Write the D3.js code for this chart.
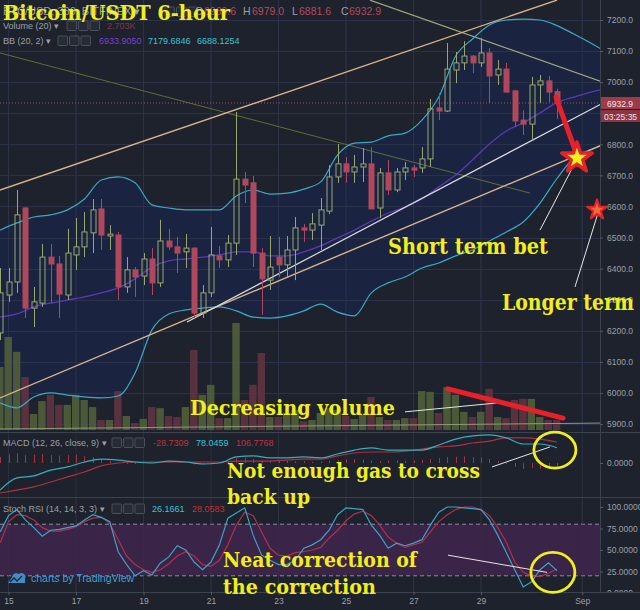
<!DOCTYPE html>
<html><head><meta charset="utf-8">
<script src="https://cdn.jsdelivr.net/npm/d3@7"></script>
<style>body{margin:0;background:#1d222c;}svg{display:block}</style>
</head><body><svg id="c" width="640" height="610"></svg>
<script>
// ---------- DATA ----------
const candleStart = "2018-08-14T18:00:00Z"; // 6-hour candles
const opens  = [6193,6315,6357,6595,6273,6289,6437,6415,6315,6444,6470,6515,6592,6505,6508,6341,6396,6376,6431,6354,6489,6470,6454,6466,6257,6322,6441,6428,6482,6688,6676,6450,6363,6437,6412,6460,6531,6524,6540,6585,6695,6737,6711,6727,6737,6595,6708,6653,6711,6724,6724,6753,6917,6907,7039,7062,7084,7062,7094,7023,7042,6972,6878,6865,6991,7004,6969.6];
const highs  = [6402,6402,6653,6598,6341,6479,6479,6441,6528,6563,6582,6624,6624,6540,6518,6437,6405,6450,6466,6557,6528,6502,6511,6468,6347,6534,6473,6508,6904,6711,6698,6466,6505,6502,6505,6566,6544,6579,6627,6733,6801,6759,6766,6788,6791,6724,6750,6724,6743,6733,6791,6946,6965,7126,7097,7132,7087,7142,7110,7071,7062,6972,6910,7017,7023,7020,6979.0];
const lows   = [6170,6293,6322,6241,6212,6277,6289,6241,6299,6396,6437,6450,6460,6460,6299,6322,6309,6347,6315,6341,6460,6386,6402,6241,6241,6309,6402,6405,6444,6611,6405,6251,6331,6373,6373,6363,6486,6492,6460,6575,6676,6676,6676,6679,6592,6563,6637,6646,6685,6695,6708,6727,6878,6904,6997,7039,7029,7049,6933,6991,6968,6856,6830,6814,6933,6936,6881.6];
const closes = [6322,6357,6573,6273,6293,6437,6415,6318,6450,6470,6518,6589,6508,6511,6341,6396,6373,6431,6354,6489,6470,6450,6466,6257,6322,6444,6428,6482,6688,6669,6450,6367,6405,6412,6460,6531,6524,6544,6589,6695,6737,6711,6727,6737,6592,6708,6653,6711,6724,6717,6753,6914,6907,7042,7062,7084,7062,7094,7020,7042,6968,6875,6865,6991,7004,6968,6932.9];
const volumesK = [17.0,25.1,21.1,14.3,4.3,7.8,9.5,6.8,6.8,9.5,8.1,6.2,2.7,2.7,10.5,3.8,1.9,3.0,6.2,5.9,3.8,3.5,6.2,21.6,9.5,12.2,3.2,3.2,28.9,8.1,12.2,20.8,3.5,3.5,4.6,5.4,2.4,2.7,4.6,5.9,5.4,3.8,3.0,4.1,8.9,3.5,2.7,2.7,3.2,3.2,10.5,10.3,4.6,11.6,9.5,4.9,3.5,4.9,11.1,3.5,3.2,8.1,8.4,8.4,3.5,2.7,2.703];
// Bollinger bands, sampled every 12 hours from candleStart
const bbUpper = [6524,6547,6566,6573,6589,6624,6685,6695,6676,6605,6595,6589,6589,6589,6634,6653,6640,6643,6656,6679,6766,6804,6807,6827,6836,6878,6952,7084,7139,7184,7200,7203,7200,7182,7155,7126,7094];
const bbMid   = [6244,6254,6277,6289,6299,6309,6322,6338,6367,6405,6425,6431,6437,6444,6454,6454,6441,6441,6454,6473,6499,6524,6553,6579,6598,6624,6663,6701,6750,6801,6843,6869,6901,6934,6952,6968,6981];
const bbLower = [5968,5952,5987,6000,5993,5987,5984,5990,6064,6203,6254,6267,6273,6277,6264,6244,6241,6248,6264,6286,6260,6248,6322,6354,6373,6402,6418,6441,6460,6489,6518,6550,6611,6690,6756,6782,6804];
// MACD (12,26,9), sampled every 12 hours
const macdLine   = [-138,-76,-66,-36,-20,5,20,15,5,0,10,5,-5,0,31,36,26,26,31,26,46,66,77,66,66,66,92,122,138,143,128,97,97,78];
const macdSignal = [-153,-138,-122,-97,-71,-46,-15,0,5,5,5,5,5,5,10,10,10,15,20,20,36,51,56,56,61,71,82,87,102,112,128,128,122,107];
const macdHist   = [30,45,50,40,42,45,40,38,40,42,35,30,20,10,0,-5,-5,0,0,5,5,0,0,-8,-8,-5,5,10,25,28,20,15,12,10,10,8,10,6,8,12,15,18,20,18,12,10,12,14,12,12,15,20,25,30,32,34,30,28,20,10,-5,-20,-30,-25,-30,-32,-28.73];
// Stoch RSI (14,14,3,3), per candle
const stochK = [71,90,97,85,76,66,73,74,76,78,85,91,88,83,48,33,20,26,21,35,42,55,50,36,27,36,56,87,93,99,67,44,38,33,33,38,52,56,62,73,91,99,98,97,79,67,52,58,55,58,62,79,94,100,100,99,98,97,85,67,47,27,7,13,27,35,26];
const stochD = [58,83,91,90,85,76,72,72,74,77,83,87,88,81,62,43,33,27,24,27,34,43,48,43,33,31,38,56,79,94,90,71,52,44,43,47,48,50,53,64,73,84,92,95,90,79,65,58,53,56,59,71,83,91,97,100,100,97,90,76,59,36,24,20,19,23,28];
// axis ticks
const priceTicks = [7200,7100,7000,6900,6800,6700,6600,6500,6400,6300,6200,6100,6000,5900];
const rsiTicks = [100,75,50,25,0];
const timeTicks = ["2018-08-15","2018-08-17","2018-08-19","2018-08-21","2018-08-23","2018-08-25","2018-08-27","2018-08-29","2018-09-01"];
const timeTickLabels = ["15","17","19","21","23","25","27","29","Sep"];
// drawn trend lines: [dayOfAugust, price]
const channelUpper = [[14.748,6653],[31.252,7264]];
const channelLower = [[14.748,5984],[32.585,6798]];
const supportLine  = [[20.289,6228],[32.615,6933]];
const olivLine     = [[14.748,7094],[30.452,6643]];
const khakiLine    = [[25.711,7264],[32.615,7000]];
const baseLine     = [[14.748,5884],[32.526,5903]];
const lastPrice = 6932.9;
// annotations: [dayOfAugust, value]
const shortArrow = [[31.222,6952],[31.785,6782]];
const shortStar = [31.844,6756];
const longStar = [32.437,6589];
const shortPointer = [[30.748,6524],[31.785,6740]];
const longPointer = [[31.785,6341],[32.467,6579]];
const volTrend = [[28.02,11.1],[31.43,3.2]];
const volPointer = [[26.748,4.9],[29.474,7.3]];
const macdPointer = [[29.326,-20],[31.044,82]];
const macdCircle = [31.19,66];
const rsiPointer = [[28.022,44],[30.956,24]];
const rsiCircle = [31.13,24];

// ---------- SCALES ----------
const svg = d3.select("#c");
const W = 600;
const dayDate = d => new Date(Date.UTC(2018,7,1) + (d-1)*864e5);
const T0 = Date.parse(candleStart), H6 = 6*3600e3;
const cTimes = d3.range(opens.length).map(i => new Date(T0 + i*H6));
const hTimes = d3.range(bbUpper.length).map(i => new Date(T0 + i*2*H6));
const x = d3.scaleUtc().domain([dayDate(17), dayDate(29)]).range([76,481]);
const y = d3.scaleLinear().domain([5900,7200]).range([424,20]);
const vy = d3.scaleLinear().domain([0,30]).range([430,430-30/0.27]);
const my = d3.scaleLinear().domain([-150,150]).range([463+150/5.1, 463-150/5.1]);
const ry = d3.scaleLinear().domain([0,100]).range([593,507]);

const bg = "#1d222c", grid = "#2a303b", sep = "#3c424d", axisText = "#9ba0a8";
svg.append("rect").attr("width",640).attr("height",610).attr("fill",bg);

const defs = svg.append("defs");
const clip = (id,y0,h)=>defs.append("clipPath").attr("id",id).append("rect").attr("x",0).attr("y",y0).attr("width",W).attr("height",h);
clip("cp",0,431); clip("cm",433,63); clip("cr",498,94);

// grid
const gGrid = svg.append("g");
gGrid.selectAll(".v").data(timeTicks).join("line")
  .attr("x1",d=>x(new Date(d+"T00:00:00Z"))).attr("x2",d=>x(new Date(d+"T00:00:00Z")))
  .attr("y1",0).attr("y2",592).attr("stroke",grid).attr("stroke-width",1);
gGrid.selectAll(".h").data(priceTicks).join("line")
  .attr("x1",0).attr("x2",W).attr("y1",d=>Math.round(y(d))+0.5).attr("y2",d=>Math.round(y(d))+0.5)
  .attr("stroke",grid);

// ---------- PRICE PANE ----------
const P = svg.append("g").attr("clip-path","url(#cp)");
const bbArea = d3.area().x((d,i)=>x(hTimes[i])).y0((d,i)=>y(bbLower[i])).y1((d,i)=>y(bbUpper[i])).curve(d3.curveMonotoneX);
P.append("path").datum(bbUpper).attr("d",bbArea).attr("fill","#1b2442").attr("opacity",0.9);
// redraw grid faintly over fill
P.selectAll(".hg").data(priceTicks).join("line")
  .attr("x1",0).attr("x2",W).attr("y1",d=>Math.round(y(d))+0.5).attr("y2",d=>Math.round(y(d))+0.5)
  .attr("stroke","#2a3148").attr("stroke-width",1);
P.selectAll(".vg").data(timeTicks).join("line")
  .attr("x1",d=>x(new Date(d+"T00:00:00Z"))).attr("x2",d=>x(new Date(d+"T00:00:00Z")))
  .attr("y1",0).attr("y2",431).attr("stroke","#2a3148");

// volume
const bw = 8;
P.selectAll(".vol").data(volumesK).join("rect")
  .attr("x",(d,i)=>x(cTimes[i])-bw/2).attr("width",bw-0.6)
  .attr("y",d=>vy(d)).attr("height",d=>vy(0)-vy(d))
  .attr("fill",(d,i)=>closes[i]>=opens[i]?"#4f5d39":"#5e3340").attr("opacity",0.95);

// trend lines
const tl = d3.line().x(d=>x(dayDate(d[0]))).y(d=>y(d[1]));
P.append("path").datum(olivLine).attr("d",tl).attr("stroke","#5f6e38").attr("stroke-width",1).attr("fill","none");
P.append("path").datum(khakiLine).attr("d",tl).attr("stroke","#a3a67a").attr("stroke-width",1.2).attr("fill","none");
P.append("path").datum(baseLine).attr("d",tl).attr("stroke","#8f9a76").attr("stroke-width",1).attr("fill","none");

// BB lines
const bbl = arr => d3.line().x((d,i)=>x(hTimes[i])).y(d=>y(d)).curve(d3.curveMonotoneX)(arr);
P.append("path").attr("d",bbl(bbUpper)).attr("stroke","#3aa9c4").attr("stroke-width",1.2).attr("fill","none");
P.append("path").attr("d",bbl(bbLower)).attr("stroke","#3aa9c4").attr("stroke-width",1.2).attr("fill","none");
P.append("path").attr("d",bbl(bbMid)).attr("stroke","#5a38b8").attr("stroke-width",1.3).attr("fill","none");

// current price dotted
P.append("line").attr("x1",0).attr("x2",W).attr("y1",y(lastPrice)).attr("y2",y(lastPrice))
  .attr("stroke","#a8475a").attr("stroke-dasharray","1,2");

// channel lines
P.append("path").datum(channelUpper).attr("d",tl).attr("stroke","#d6b48a").attr("stroke-width",1.4).attr("fill","none");
P.append("path").datum(channelLower).attr("d",tl).attr("stroke","#d6b48a").attr("stroke-width",1.4).attr("fill","none");
P.append("path").datum(supportLine).attr("d",tl).attr("stroke","#dcdcdc").attr("stroke-width",1.2).attr("fill","none");

// candles
const cw = 5, green = "#98a86d", red = "#b0485d";
const cg = P.selectAll(".c").data(opens).join("g");
cg.each(function(o,i){
  const g = d3.select(this), cx = Math.round(x(cTimes[i]))+0.5;
  const up = closes[i]>=o, col = up?green:red;
  const top = y(Math.max(o,closes[i])), bot = y(Math.min(o,closes[i]));
  g.append("line").attr("x1",cx).attr("x2",cx).attr("y1",y(highs[i])).attr("y2",top).attr("stroke",col);
  g.append("line").attr("x1",cx).attr("x2",cx).attr("y1",bot).attr("y2",y(lows[i])).attr("stroke",col);
  g.append("rect").attr("x",cx-cw/2).attr("width",cw).attr("y",top).attr("height",Math.max(1,bot-top))
    .attr("fill",up?"none":red).attr("stroke",col).attr("stroke-width",1);
});

// ---------- MACD PANE ----------
const M = svg.append("g").attr("clip-path","url(#cm)");
M.selectAll(".hb").data(macdHist).join("line")
  .attr("x1",(d,i)=>Math.round(x(cTimes[i]))+0.5).attr("x2",(d,i)=>Math.round(x(cTimes[i]))+0.5)
  .attr("y1",my(0)).attr("y2",d=>my(d)).attr("stroke","#a8323f").attr("stroke-width",1);
const ml = arr => d3.line().x((d,i)=>x(hTimes[i])).y(d=>my(d)).curve(d3.curveMonotoneX)(arr);
M.append("path").attr("d",ml(macdSignal)).attr("stroke","#b0303e").attr("stroke-width",1.2).attr("fill","none");
M.append("path").attr("d",ml(macdLine)).attr("stroke","#35aebf").attr("stroke-width",1.2).attr("fill","none");

// ---------- STOCH RSI PANE ----------
const R = svg.append("g").attr("clip-path","url(#cr)");
R.append("rect").attr("x",0).attr("width",W).attr("y",ry(80)).attr("height",ry(20)-ry(80)).attr("fill","#3a2447");
[80,20].forEach(v=>R.append("line").attr("x1",0).attr("x2",W).attr("y1",ry(v)).attr("y2",ry(v))
  .attr("stroke","#8d8f9c").attr("stroke-dasharray","4,3"));
R.selectAll(".vg").data(timeTicks).join("line")
  .attr("x1",d=>x(new Date(d+"T00:00:00Z"))).attr("x2",d=>x(new Date(d+"T00:00:00Z")))
  .attr("y1",498).attr("y2",592).attr("stroke","#3a2f4a").attr("opacity",0.6);
const rl = arr => d3.line().x((d,i)=>x(cTimes[i])).y(d=>ry(d))(arr);
R.append("path").attr("d",rl(stochD)).attr("stroke","#b0304f").attr("stroke-width",1.2).attr("fill","none");
R.append("path").attr("d",rl(stochK)).attr("stroke","#3ba3c6").attr("stroke-width",1.2).attr("fill","none");

// ---------- SEPARATORS & AXES ----------
[432,497,592].forEach(v=>svg.append("line").attr("x1",0).attr("x2",640).attr("y1",v+0.5).attr("y2",v+0.5).attr("stroke",sep));
svg.append("line").attr("x1",600.5).attr("x2",600.5).attr("y1",0).attr("y2",610).attr("stroke",sep);

const axStyle = g => { g.select(".domain").remove(); g.selectAll("line").attr("stroke","#555b66");
  g.selectAll("text").attr("fill",axisText).attr("font-family","Liberation Sans, Arial").attr("font-size","8.5px"); };
svg.append("g").attr("transform","translate(600,0)")
  .call(d3.axisRight(y).tickValues(priceTicks).tickFormat(d3.format(".1f")).tickSize(3).tickPadding(4)).call(axStyle);
svg.append("g").attr("transform","translate(600,0)")
  .call(d3.axisRight(my).tickValues([0]).tickFormat(d3.format(".4f")).tickSize(3).tickPadding(4)).call(axStyle);
svg.append("g").attr("transform","translate(600,0)")
  .call(d3.axisRight(ry).tickValues(rsiTicks).tickFormat(d3.format(".4f")).tickSize(3).tickPadding(4)).call(axStyle);
// time axis background
svg.append("rect").attr("x",0).attr("y",593).attr("width",640).attr("height",17).attr("fill",bg);
svg.append("line").attr("x1",0).attr("x2",640).attr("y1",592.5).attr("y2",592.5).attr("stroke",sep);
svg.append("g").attr("transform","translate(0,592)")
  .call(d3.axisBottom(x).tickValues(timeTicks.map(d=>new Date(d+"T00:00:00Z")))
    .tickFormat((d,i)=>timeTickLabels[i]).tickSize(3).tickPadding(3)).call(axStyle);

// price label boxes
const pl = svg.append("g");
pl.append("rect").attr("x",601).attr("y",y(lastPrice)-6).attr("width",39).attr("height",12).attr("fill","#9c3b4a");
pl.append("text").attr("x",607).attr("y",y(lastPrice)+3.5).text(d3.format(".1f")(lastPrice))
  .attr("fill","#f2e6e8").attr("font-family","Liberation Sans, Arial").attr("font-size","8.5px");
pl.append("rect").attr("x",601).attr("y",y(lastPrice)+7).attr("width",39).attr("height",12).attr("fill","#8c3442");
pl.append("text").attr("x",604).attr("y",y(lastPrice)+16.5).text("03:25:35")
  .attr("fill","#f2e6e8").attr("font-family","Liberation Sans, Arial").attr("font-size","8.5px");

// ---------- HEADERS ----------
const H = svg.append("g").attr("font-family","Liberation Sans, Arial");
const txt = (g,xx,yy,s,col,size)=>g.append("text").attr("x",xx).attr("y",yy).text(s).attr("fill",col).attr("font-size",size);
const icons = (g,xx,yy)=>{ for(let k=0;k<3;k++){ g.append("rect").attr("x",xx+k*11.5).attr("y",yy-8).attr("width",9.5).attr("height",9.5)
  .attr("fill","#262b35").attr("stroke","#4a4f5a").attr("rx",1); } };
txt(H,3,15,"BTC/USD, 360, BITFINEX ▾","#9ba0a8","11px");
icons(H,165,15);
txt(H,195,15,"O","#9ba0a8","10.5px"); txt(H,204,15,"6969.6","#b24a5c","10.5px");
txt(H,243,15,"H","#9ba0a8","10.5px"); txt(H,252,15,"6979.0","#b24a5c","10.5px");
txt(H,292,15,"L","#9ba0a8","10.5px"); txt(H,299,15,"6881.6","#b24a5c","10.5px");
txt(H,341,15,"C","#9ba0a8","10.5px"); txt(H,349,15,"6932.9","#b24a5c","10.5px");
txt(H,3,29,"Volume (20) ▾","#9ba0a8","9px"); icons(H,67,29); txt(H,107,29,"2.703K","#7e3a46","9px");
txt(H,3,44,"BB (20, 2) ▾","#9ba0a8","9px"); icons(H,58,44);
txt(H,99,44,"6933.9050","#7b3fd0","9px"); txt(H,148,44,"7179.6846","#3cc2d4","9px"); txt(H,197,44,"6688.1254","#3cc2d4","9px");
txt(H,3,446,"MACD (12, 26, close, 9) ▾","#9ba0a8","9px"); icons(H,112,446);
txt(H,153,446,"-28.7309","#c0303c","9px"); txt(H,196,446,"78.0459","#3cc2d4","9px"); txt(H,236,446,"106.7768","#c0303c","9px");
txt(H,3,512,"Stoch RSI (14, 14, 3, 3) ▾","#9ba0a8","9px"); icons(H,112,512);
txt(H,152,512,"26.1661","#3cc2d4","9px"); txt(H,192,512,"28.0583","#c0303c","9px");
// TradingView logo
H.append("path").attr("d","M8,583 L12,577 A4.5,4.5 0 0 1 19,574 A4,4 0 0 1 25,579 L25,583 Z").attr("fill","#3d8fc8");
H.append("path").attr("d","M10,582 L14,578 L17,581 L22,576").attr("stroke","#1d222c").attr("stroke-width",1.3).attr("fill","none");
txt(H,31,582,"charts by TradingView","#4b9cd3","10.5px");

// ---------- ANNOTATIONS ----------
const A = svg.append("g");
const wl = (pts,sy)=>A.append("path").attr("d",d3.line().x(d=>x(dayDate(d[0]))).y(d=>sy(d[1]))(pts))
  .attr("stroke","#e6e6e6").attr("stroke-width",1).attr("fill","none");
wl(shortPointer,y); wl(longPointer,y); wl(volPointer,vy); wl(macdPointer,my); wl(rsiPointer,ry);
A.append("path").attr("d",d3.line().x(d=>x(dayDate(d[0]))).y(d=>y(d[1]))(shortArrow))
  .attr("stroke","#e8202a").attr("stroke-width",5).attr("stroke-linecap","round");
A.append("path").attr("d",d3.line().x(d=>x(dayDate(d[0]))).y(d=>vy(d[1]))(volTrend))
  .attr("stroke","#e8202a").attr("stroke-width",5).attr("stroke-linecap","round");
A.append("path").attr("d",d3.symbol(d3.symbolStar, 16*16/0.8908)())
  .attr("transform",`translate(${x(dayDate(shortStar[0]))},${y(shortStar[1])}) rotate(0)`)
  .attr("fill","#f6f01c").attr("stroke","#e8202a").attr("stroke-width",3.5).attr("stroke-linejoin","round");
A.append("path").attr("d",d3.symbol(d3.symbolStar, 10.5*10.5/0.8908)())
  .attr("transform",`translate(${x(dayDate(longStar[0]))},${y(longStar[1])})`)
  .attr("fill","#f26a3a").attr("stroke","#e8202a").attr("stroke-width",2).attr("stroke-linejoin","round");
A.append("ellipse").attr("cx",x(dayDate(macdCircle[0]))).attr("cy",my(macdCircle[1])).attr("rx",21).attr("ry",18)
  .attr("fill","none").attr("stroke","#f2ee1e").attr("stroke-width",2.8);
A.append("ellipse").attr("cx",x(dayDate(rsiCircle[0]))).attr("cy",ry(rsiCircle[1])).attr("rx",22).attr("ry",20)
  .attr("fill","none").attr("stroke","#f2ee1e").attr("stroke-width",2.8);

const yt = (s,xx,yy,size,len)=>A.append("text").attr("x",xx).attr("y",yy).text(s)
  .attr("fill","#f2ee1e").attr("font-family","DejaVu Serif, serif").attr("font-weight","bold")
  .attr("font-size",size+"px").attr("textLength",len).attr("lengthAdjust","spacingAndGlyphs");
yt("Bitcoin/USDT 6-hour",3,20,20,227);
yt("Short term bet",388,254,22,160);
yt("Longer term",502,310,22,132);
yt("Decreasing volume",190,415,21,205);
yt("Not enough gas to cross",227,478,21,253);
yt("back up",227,504,21,83);
yt("Neat correction of",223,567,21,194);
yt("the correction",223,594,21,153);
</script></body></html>
